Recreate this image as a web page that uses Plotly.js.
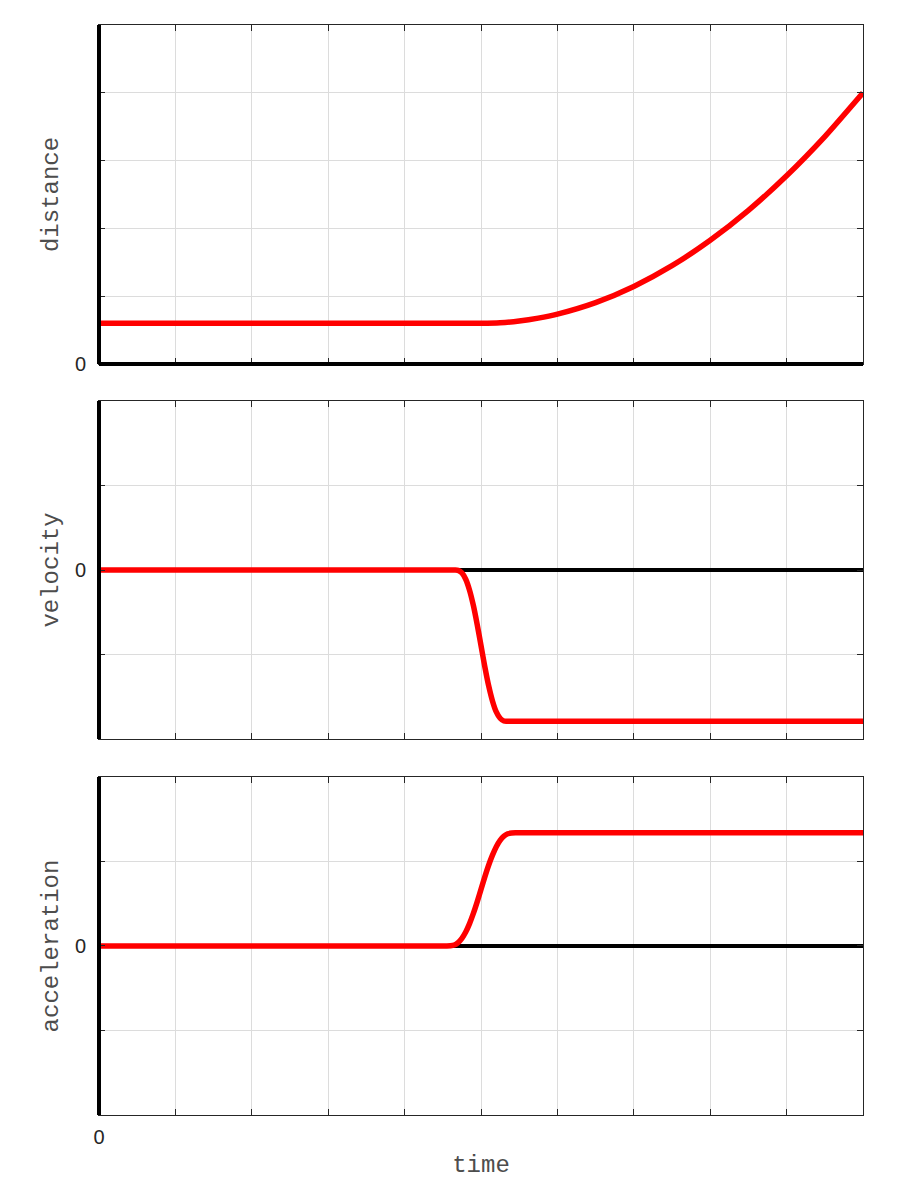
<!DOCTYPE html>
<html>
<head>
<meta charset="utf-8">
<script src="https://cdn.plot.ly/plotly-3.0.1.min.js"></script>
<style>html,body{margin:0;padding:0;background:#fff;}#chart{width:900px;height:1200px;}</style>
</head>
<body>
<div id="chart"></div>
<script>
// ---- data ----
var timeTicks = [0, 1, 2, 3, 4, 5, 6, 7, 8, 9, 10];
var timeTickText = ['0', '', '', '', '', '', '', '', '', '', ''];

var distT = [0, 5, 5.25, 5.5, 5.75, 6, 6.5, 7, 7.5, 8, 8.5, 9, 9.5, 10];
var distV = [0.6, 0.6, 0.608, 0.634, 0.677, 0.736, 0.906, 1.144, 1.45, 1.824, 2.266, 2.776, 3.354, 4.0];

var velT = [0, 4.66, 4.70, 4.75, 4.80, 4.85, 4.90, 4.95, 5.00, 5.05, 5.10, 5.15, 5.20, 5.25, 5.30, 5.34, 10];
var velV = [0, 0, -0.004, -0.035, -0.11, -0.24, -0.42, -0.645, -0.895, -1.145, -1.37, -1.55, -1.68, -1.755, -1.787, -1.79, -1.79];

var accT = [0, 4.55, 4.60, 4.65, 4.70, 4.75, 4.80, 4.85, 4.90, 4.95, 5.00, 5.05, 5.10, 5.15, 5.20, 5.25, 5.30, 5.35, 5.40, 5.45, 10];
var accV = [0, 0, 0.002, 0.012, 0.040, 0.090, 0.165, 0.265, 0.385, 0.522, 0.67, 0.818, 0.955, 1.075, 1.175, 1.25, 1.30, 1.328, 1.338, 1.34, 1.34];

var distTicks = [0, 1, 2, 3, 4, 5];
var distTickText = ['0', '', '', '', '', ''];
var sigTicks = [-2, -1, 0, 1, 2];
var sigTickText = ['', '', '0', '', ''];

var yLabels = ['distance', 'velocity', 'acceleration'];
var xLabel = 'time';

// ---- layout ----
var domTop = [0.6890, 1.0];
var domMid = [0.3450, 0.6550];
var domBot = [0.0, 0.3101];

var titleFont = {family: "'Courier New', 'Liberation Mono', 'Nimbus Mono PS', Courier, monospace", size: 24, color: '#4d4d4d'};
var tickFont = {family: "'Liberation Sans', Arial, Helvetica, sans-serif", size: 20, color: '#262626'};

function xAx(anchor, showLabels) {
  return {
    anchor: anchor, domain: [0, 1], range: [0, 10],
    tickmode: 'array', tickvals: timeTicks, ticktext: timeTickText,
    showticklabels: showLabels, ticks: 'inside', ticklen: 6, tickwidth: 1, tickcolor: '#262626',
    showline: true, linecolor: '#262626', linewidth: 1, mirror: 'ticks',
    showgrid: true, gridcolor: '#dcdcdc', gridwidth: 1,
    zeroline: false, fixedrange: true, tickfont: tickFont, ticklabelstandoff: 4
  };
}
function yAx(anchor, dom, rng, tv, tt, label, zl) {
  return {
    anchor: anchor, domain: dom, range: rng,
    tickmode: 'array', tickvals: tv, ticktext: tt,
    ticks: 'inside', ticklen: 6, tickwidth: 1, tickcolor: '#262626',
    showline: true, linecolor: '#262626', linewidth: 1, mirror: 'ticks',
    showgrid: true, gridcolor: '#dcdcdc', gridwidth: 1,
    zeroline: zl, zerolinecolor: '#000000', zerolinewidth: 4,
    fixedrange: true, tickfont: tickFont, ticklabelstandoff: 8,
    title: {text: label, font: titleFont, standoff: 9}
  };
}

var red = {color: '#ff0000', width: 5.5, shape: 'spline', smoothing: 0.6};
var traces = [
  {x: distT, y: distV, xaxis: 'x', yaxis: 'y', mode: 'lines', line: red, hoverinfo: 'skip'},
  {x: velT, y: velV, xaxis: 'x2', yaxis: 'y2', mode: 'lines', line: red, hoverinfo: 'skip'},
  {x: accT, y: accV, xaxis: 'x3', yaxis: 'y3', mode: 'lines', line: red, hoverinfo: 'skip'}
];

var shapes = [];
[domTop, domMid, domBot].forEach(function (d) {
  shapes.push({type: 'line', xref: 'paper', yref: 'paper', x0: 0, x1: 0, y0: d[0], y1: d[1],
    line: {color: '#000000', width: 4}, layer: 'above'});
});
shapes.push({type: 'line', xref: 'paper', yref: 'paper', x0: 0, x1: 1, y0: domTop[0], y1: domTop[0],
  line: {color: '#000000', width: 4}, layer: 'above'});

var xb = xAx('y3', true);
xb.title = {text: xLabel, font: titleFont, standoff: 8};

var layout = {
  width: 900, height: 1200,
  margin: {l: 99, r: 37, t: 25, b: 85},
  paper_bgcolor: '#ffffff', plot_bgcolor: '#ffffff',
  showlegend: false,
  xaxis: xAx('y', false),
  xaxis2: xAx('y2', false),
  xaxis3: xb,
  yaxis: yAx('x', domTop, [0, 5], distTicks, distTickText, yLabels[0], false),
  yaxis2: yAx('x2', domMid, [-2, 2], sigTicks, sigTickText, yLabels[1], true),
  yaxis3: yAx('x3', domBot, [-2, 2], sigTicks, sigTickText, yLabels[2], true),
  shapes: shapes
};

Plotly.newPlot('chart', traces, layout, {staticPlot: true, displayModeBar: false});
</script>
</body>
</html>
